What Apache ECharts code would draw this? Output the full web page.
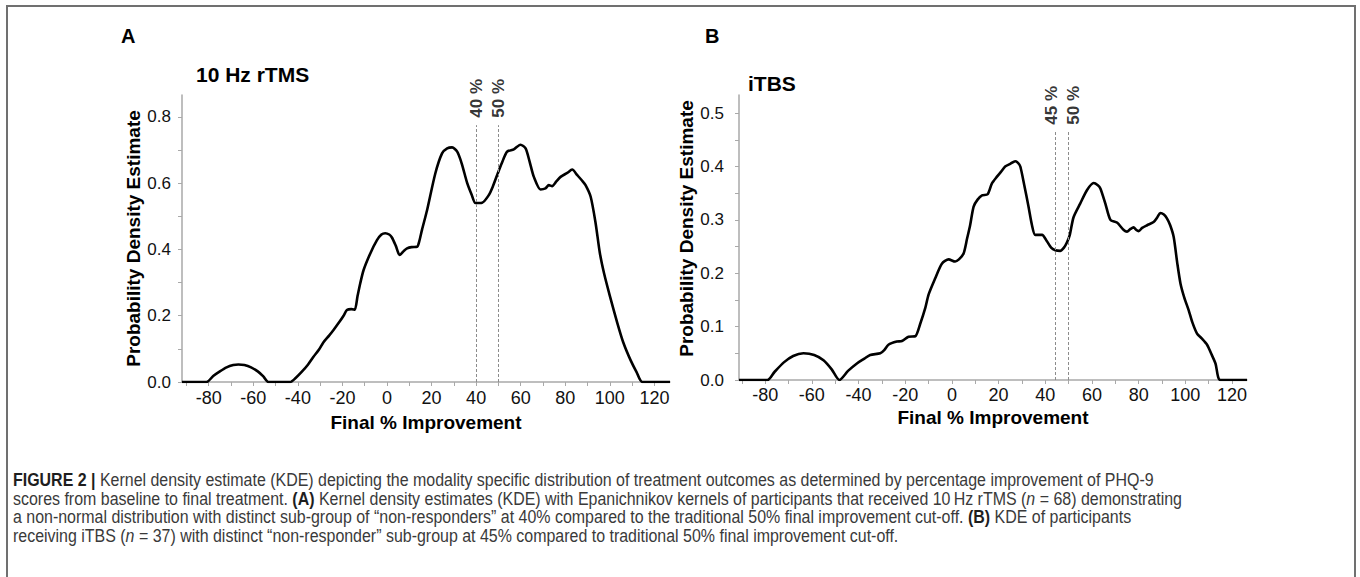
<!DOCTYPE html>
<html><head><meta charset="utf-8">
<script src="https://cdn.jsdelivr.net/npm/echarts@6/dist/echarts.min.js"></script>
<style>
html,body{margin:0;padding:0;background:#fff;}
#wrap{position:relative;width:1360px;height:577px;overflow:hidden;background:#fff;}
#chart{position:absolute;left:0;top:0;width:1360px;height:577px;}
#frame{position:absolute;left:6px;top:5px;width:1350px;height:620px;border:2px solid #707070;box-sizing:border-box;pointer-events:none;}
.cap{position:absolute;left:13px;white-space:nowrap;font-family:'Liberation Sans',Arial,sans-serif;font-size:17.5px;line-height:18.5px;color:#3a3a3a;transform-origin:0 0;}
.cap b{color:#1e1e1e;}
</style></head>
<body>
<div id="wrap">
<div id="chart"></div>
<div id="frame"></div>
<div class="cap" style="top:471px"><b>FIGURE 2 |</b> Kernel density estimate (KDE) depicting the modality specific distribution of treatment outcomes as determined by percentage improvement of PHQ-9</div>
<div class="cap" id="refline" style="top:489.5px">scores from baseline to final treatment. <b>(A)</b> Kernel density estimates (KDE) with Epanichnikov kernels of participants that received 10&#8201;Hz rTMS (<i>n</i> = 68) demonstrating</div>
<div class="cap" style="top:508px">a non-normal distribution with distinct sub-group of “non-responders” at 40% compared to the traditional 50% final improvement cut-off. <b>(B)</b> KDE of participants</div>
<div class="cap" style="top:526.5px">receiving iTBS (<i>n</i> = 37) with distinct “non-responder” sub-group at 45% compared to traditional 50% final improvement cut-off.</div>
</div>
<script>
// ---------- DATA ----------
// Panel A: 10 Hz rTMS (x = Final % Improvement, y = density)
const xA = [-92,-81,-78,-75,-72,-69,-66.7,-64,-61,-58,-55.5,-53.2,-43.5,-41,-38.2,-35.5,-33,-30.5,-28.5,-26,-24,-21.5,-19.5,-18,-16,-14.5,-13.2,-12,-10.5,-7.5,-4.5,-2.5,-0.8,1,2.2,4,5.7,7.5,9,11,13.5,14.5,15.7,18,21.7,24.7,27,29.2,31.5,33.5,36,38,39.7,42.7,45.7,47.5,49.4,51.5,53.9,56.9,59.9,62.2,64,65.9,68.9,71.1,72.6,74.1,76,77.9,80.9,83.1,85.4,87.5,89.1,91.4,93.6,95.5,97.4,100,103.4,106,109.3,112,114.6,127];
const yA = [0,0,0.018,0.032,0.044,0.051,0.053,0.051,0.044,0.032,0.017,0,0,0.012,0.031,0.052,0.076,0.098,0.12,0.14,0.157,0.18,0.2,0.217,0.22,0.218,0.26,0.298,0.338,0.388,0.428,0.445,0.449,0.445,0.436,0.41,0.383,0.395,0.403,0.407,0.408,0.425,0.459,0.519,0.63,0.69,0.705,0.708,0.695,0.66,0.6,0.565,0.54,0.541,0.564,0.59,0.624,0.66,0.695,0.702,0.716,0.705,0.665,0.619,0.581,0.584,0.594,0.591,0.605,0.619,0.631,0.641,0.624,0.608,0.594,0.559,0.48,0.39,0.328,0.26,0.177,0.12,0.066,0.03,0,0];
// Panel B: iTBS
const xB = [-91.2,-79,-76,-72,-68,-63.6,-59,-55,-51.5,-48.2,-44.5,-40.7,-37.5,-35,-30.7,-29,-27.2,-23.6,-21.4,-18.6,-15.7,-13.6,-11.4,-10,-7.2,-4.3,-1.4,1.4,3,5,6.5,7.8,9.3,11,12.9,15.3,17.1,19.3,21,22.8,25,27.1,28.3,29.3,31,32.8,34.3,35.7,38.6,40.7,42.5,44.3,46.4,48,49.3,50.5,52.1,55,57.9,60.7,62.5,63.6,65.7,67.9,70.7,73.6,75,76.5,77.8,79,80,81.5,83.6,86.4,88,89.3,90.8,92.1,93.5,95,96.5,97.9,99.5,101.4,103,105,107,109.3,111,112.9,115,126.4];
const yB = [0,0,0.015,0.033,0.045,0.05,0.047,0.037,0.02,0,0.017,0.031,0.04,0.047,0.05,0.056,0.066,0.072,0.073,0.081,0.082,0.105,0.135,0.16,0.19,0.218,0.226,0.222,0.226,0.237,0.265,0.29,0.325,0.338,0.346,0.348,0.368,0.381,0.39,0.4,0.405,0.41,0.407,0.4,0.365,0.325,0.29,0.272,0.272,0.26,0.248,0.243,0.242,0.248,0.258,0.272,0.305,0.331,0.356,0.369,0.365,0.359,0.331,0.3,0.295,0.281,0.278,0.283,0.286,0.281,0.279,0.285,0.29,0.296,0.305,0.313,0.31,0.303,0.29,0.268,0.22,0.181,0.155,0.131,0.108,0.087,0.078,0.066,0.05,0.031,0,0];
// Cut-off reference lines
const cutA = [40, 50];
const cutLabelsA = ['40 %', '50 %'];
const cutTopA = 0.775;
const cutB = [44.3, 49.7];
const cutLabelsB = ['45 %', '50 %'];
const cutTopB = 0.468;
// Tick values / labels
const xTicks = [-90,-80,-70,-60,-50,-40,-30,-20,-10,0,10,20,30,40,50,60,70,80,90,100,110,120];
const xLabels = [-80,-60,-40,-20,0,20,40,60,80,100,120];
const yTicksA = [0,0.1,0.2,0.3,0.4,0.5,0.6,0.7,0.8];
const yLabelsA = [0,0.2,0.4,0.6,0.8];
const yTicksB = [0,0.05,0.1,0.15,0.2,0.25,0.3,0.35,0.4,0.45,0.5];
const yLabelsB = [0,0.1,0.2,0.3,0.4,0.5];
const titleA = '10 Hz rTMS', titleB = 'iTBS';
const xName = 'Final % Improvement', yName = 'Probability Density Estimate';

// ---------- CHART ----------
const F = "'Liberation Sans', Arial, sans-serif";
const AX = '#a9a9a9';
const zip = (xs, ys) => xs.map((x, i) => [x, ys[i]]);

function xAxisCfg(gi, min, max, nameGap, margin) {
  return {
    type: 'value', gridIndex: gi, min: min, max: max,
    name: xName, nameLocation: 'middle', nameGap: nameGap,
    nameTextStyle: {fontFamily: F, fontSize: 19, fontWeight: 'bold', color: '#000'},
    axisLine: {show: true, onZero: false, lineStyle: {color: AX, width: 1.5}},
    axisTick: {show: true, length: 4, customValues: xTicks, lineStyle: {color: AX, width: 1}},
    axisLabel: {customValues: xLabels, margin: margin, fontFamily: F, fontSize: 18, color: '#111'},
    splitLine: {show: false}
  };
}
function yAxisCfg(gi, max, ticks, labels, nameGap, margin, namePad) {
  return {
    type: 'value', gridIndex: gi, min: 0, max: max,
    name: yName, nameLocation: 'middle', nameGap: nameGap,
    nameTextStyle: {fontFamily: F, fontSize: 19, fontWeight: 'bold', color: '#000', padding: namePad},
    axisLine: {show: true, onZero: false, lineStyle: {color: AX, width: 1.5}},
    axisTick: {show: true, length: 4, customValues: ticks, lineStyle: {color: AX, width: 1}},
    axisLabel: {customValues: labels, margin: margin, fontFamily: F, fontSize: 17, color: '#111',
      formatter: v => Number(v).toFixed(1)},
    splitLine: {show: false}
  };
}
function curve(i, xs, ys, cuts, top) {
  return {
    type: 'line', xAxisIndex: i, yAxisIndex: i, data: zip(xs, ys),
    showSymbol: false, smooth: 0.25, silent: true,
    lineStyle: {color: '#000', width: 2.6},
    markLine: {
      silent: true, symbol: 'none', label: {show: false},
      lineStyle: {type: [3, 2], color: '#8c8c8c', width: 1},
      data: cuts.map(c => [{coord: [c, 0]}, {coord: [c, top]}])
    }
  };
}
// label offsets are in the rotated text frame: [along text, across text]
function cutLabels(i, cuts, labels, top, dist, shifts) {
  return {
    type: 'scatter', xAxisIndex: i, yAxisIndex: i, silent: true,
    symbolSize: 1, itemStyle: {color: 'rgba(0,0,0,0)'},
    data: cuts.map((c, k) => ({value: [c, top, labels[k]], label: {offset: [0, shifts[k]]}})),
    label: {show: true, position: 'top', distance: dist, rotate: 90,
      align: 'left', verticalAlign: 'middle',
      formatter: p => p.value[2],
      fontFamily: F, fontSize: 17, fontWeight: 'bold', color: '#000'}
  };
}
const titleStyle = s => ({fontFamily: F, fontSize: s, fontWeight: 'bold', color: '#000'});

const chart = echarts.init(document.getElementById('chart'), null, {renderer: 'svg'});
chart.setOption({
  animation: false,
  backgroundColor: 'transparent',
  title: [
    {text: 'A', left: 121, top: 26, padding: 0, textStyle: titleStyle(20)},
    {text: 'B', left: 705, top: 26, padding: 0, textStyle: titleStyle(20)},
    {text: titleA, left: 196, top: 64, padding: 0, textStyle: titleStyle(21)},
    {text: titleB, left: 748, top: 73, padding: 0, textStyle: titleStyle(21)}
  ],
  grid: [
    {left: 182, right: 690, top: 95, bottom: 195, containLabel: false, outerBoundsMode: 'none'},
    {left: 739, right: 113, top: 95, bottom: 197, containLabel: false, outerBoundsMode: 'none'}
  ],
  xAxis: [xAxisCfg(0, -92, 127, 31, 7), xAxisCfg(1, -91.2, 126.4, 28, 6)],
  yAxis: [yAxisCfg(0, 0.866, yTicksA, yLabelsA, 38, 11, 0), yAxisCfg(1, 0.534, yTicksB, yLabelsB, 43, 15, [0, 0, 0, 18])],
  series: [
    curve(0, xA, yA, cutA, cutTopA),
    curve(1, xB, yB, cutB, cutTopB),
    cutLabels(0, cutA, cutLabelsA, cutTopA, 7, [0, 0.5]),
    cutLabels(1, cutB, cutLabelsB, cutTopB, 5, [-3.5, 5.5])
  ]
});

// Fit caption lines to the reference's condensed width
(function () {
  const ref = document.getElementById('refline');
  const w = ref.getBoundingClientRect().width;
  const s = 1169 / w;
  document.querySelectorAll('.cap').forEach(el => { el.style.transform = 'scaleX(' + s + ')'; });
})();
</script>
</body></html>
